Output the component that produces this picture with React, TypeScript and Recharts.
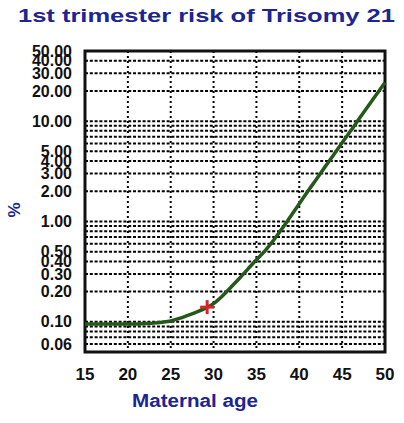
import {
  ComposedChart,
  Line,
  Scatter,
  XAxis,
  YAxis,
  CartesianGrid,
  ReferenceArea,
} from 'recharts'

const AGES = [
  15, 16, 17, 18, 19, 20, 21, 22, 23, 24, 25, 26, 27, 28, 29, 30, 31, 32,
  33, 34, 35, 36, 37, 38, 39, 40, 41, 42, 43, 44, 45, 46, 47, 48, 49, 50,
]
// % risk by maternal age
const RISK = [
  0.095, 0.095, 0.095, 0.095, 0.095, 0.095, 0.095, 0.096, 0.097, 0.099,
  0.102, 0.108, 0.116, 0.125, 0.136, 0.152, 0.18, 0.22, 0.27, 0.335, 0.415,
  0.51, 0.65, 0.85, 1.13, 1.5, 2.0, 2.64, 3.5, 4.6, 6.1, 8.0, 10.6, 14,
  18.4, 24.3,
]
const PATIENT_AGE = [29.25]
const PATIENT_RISK = [0.14]

const X_TICKS = [15, 20, 25, 30, 35, 40, 45, 50]
const Y_TICKS = [
  0.06, 0.1, 0.2, 0.3, 0.4, 0.5, 1, 2, 3, 4, 5, 10, 20, 30, 40, 50,
]
const Y_GRID = [
  0.06, 0.07, 0.08, 0.09, 0.1, 0.2, 0.3, 0.4, 0.5, 0.6, 0.7, 0.8, 0.9, 1, 2,
  3, 4, 5, 6, 7, 8, 9, 10, 20, 30, 40,
]
const X_GRID = [20, 25, 30, 35, 40, 45]

const curve = AGES.map((age, i) => ({ age, risk: RISK[i] }))
const patient = PATIENT_AGE.map((age, i) => ({ age, risk: PATIENT_RISK[i] }))

const FONT = '"Liberation Sans", Arial, sans-serif'
const BLUE = '#1c2590'

function PlusMark(props: any) {
  const { cx, cy } = props
  if (cx == null || cy == null) return null
  return (
    <g stroke="#d8232a" strokeWidth={3}>
      <line x1={cx - 7} y1={cy} x2={cx + 7} y2={cy} />
      <line x1={cx} y1={cy - 7} x2={cx} y2={cy + 7} />
    </g>
  )
}

export default function App() {
  return (
    <div
      style={{
        position: 'absolute',
        left: 0,
        top: 0,
        width: 404,
        height: 423,
        background: '#fff',
      }}
    >
      <ComposedChart
        width={404}
        height={423}
        data={curve}
        margin={{ top: 51, right: 19, bottom: 31, left: 0 }}
      >
        <CartesianGrid
          horizontal
          vertical={false}
          horizontalValues={Y_GRID}
          stroke="#000"
          strokeWidth={2}
          strokeDasharray="3 1.8"
        />
        <CartesianGrid
          horizontal={false}
          vertical
          verticalValues={X_GRID}
          stroke="#000"
          strokeWidth={2}
          strokeDasharray="2 3"
        />
        <XAxis
          dataKey="age"
          type="number"
          domain={[15, 50]}
          ticks={X_TICKS}
          interval={0}
          height={40}
          axisLine={false}
          tickLine={false}
          tickSize={0}
          tickMargin={16}
          tick={{ fill: '#111', fontSize: 17, fontWeight: 'bold', fontFamily: FONT }}
        />
        <YAxis
          dataKey="risk"
          type="number"
          scale="log"
          domain={[0.05, 50]}
          allowDataOverflow
          ticks={Y_TICKS}
          interval={0}
          width={85}
          axisLine={false}
          tickLine={false}
          tickSize={0}
          tickMargin={13}
          tickFormatter={(v: number) => v.toFixed(2)}
          tick={{ fill: '#111', fontSize: 16, fontWeight: 'bold', fontFamily: FONT }}
        />
        <ReferenceArea
          x1={15}
          x2={50}
          y1={0.05}
          y2={50}
          fill="none"
          stroke="#111"
          strokeWidth={3}
          ifOverflow="visible"
        />
        <Line
          type="monotone"
          dataKey="risk"
          stroke="#24591a"
          strokeWidth={3.5}
          dot={false}
          isAnimationActive={false}
        />
        <Scatter
          data={patient}
          dataKey="risk"
          shape={<PlusMark />}
          isAnimationActive={false}
        />
      </ComposedChart>
      <svg
        width={404}
        height={423}
        style={{ position: 'absolute', left: 0, top: 0, pointerEvents: 'none' }}
      >
        <text
          x={18}
          y={22}
          fontFamily={FONT}
          fontWeight="bold"
          fontSize={19}
          fill={BLUE}
          textLength={377}
          lengthAdjust="spacingAndGlyphs"
        >
          1st trimester risk of Trisomy 21
        </text>
        <text
          x={132}
          y={407}
          fontFamily={FONT}
          fontWeight="bold"
          fontSize={18}
          fill={BLUE}
          textLength={126}
          lengthAdjust="spacingAndGlyphs"
        >
          Maternal age
        </text>
        <text
          x={0}
          y={0}
          transform="translate(20 210) rotate(-90)"
          textAnchor="middle"
          fontFamily={FONT}
          fontWeight="bold"
          fontSize={17}
          fill={BLUE}
        >
          %
        </text>
      </svg>
    </div>
  )
}
